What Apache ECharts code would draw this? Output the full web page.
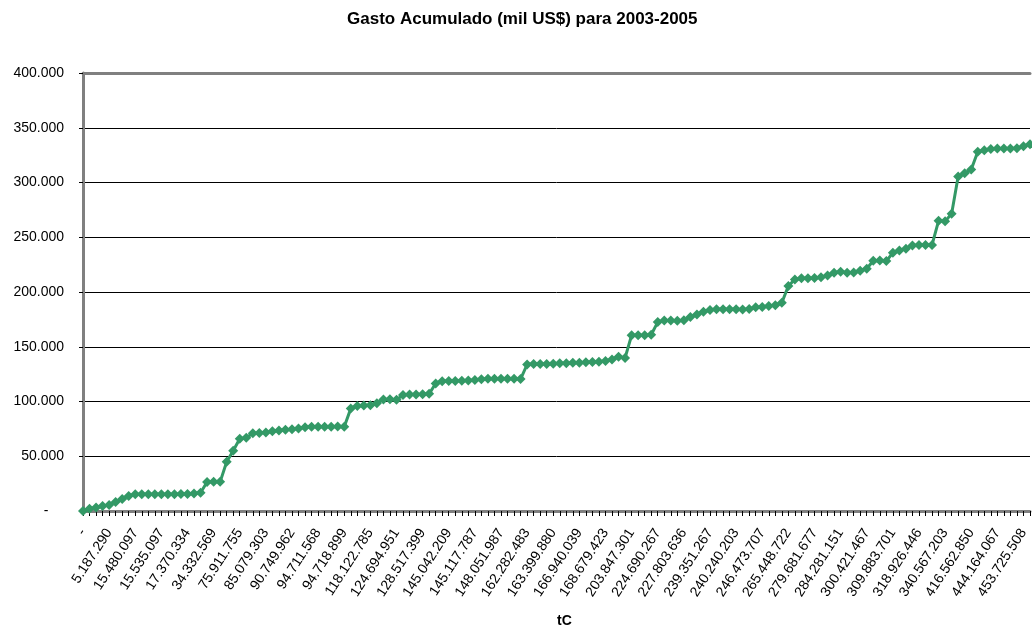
<!DOCTYPE html>
<html>
<head>
<meta charset="utf-8">
<script src="https://cdn.jsdelivr.net/npm/echarts@6/dist/echarts.min.js"></script>
<style>
  html, body { margin: 0; padding: 0; background: #ffffff; }
  #chart { width: 1032px; height: 628px; }
</style>
</head>
<body>
<div id="chart"></div>
<script>
// Accumulated spending (thousand US$) against accumulated tC, 2003-2005
const tickLabels = [
  '-', '5.187.290', '15.480.097', '15.535.097', '17.370.334', '34.332.569',
  '75.911.755', '85.079.303', '90.749.962', '94.711.568', '94.718.899',
  '118.122.785', '124.694.951', '128.517.399', '145.042.209', '145.117.787',
  '148.051.987', '162.282.483', '163.399.880', '166.940.039', '168.679.423',
  '203.847.301', '224.690.267', '227.803.636', '239.351.267', '240.240.203',
  '246.473.707', '265.448.722', '279.681.677', '284.281.151', '300.421.467',
  '309.883.701', '318.926.446', '340.567.203', '416.562.850', '444.164.067',
  '453.725.508'
];

const gastoAcumulado = [
  0, 2000, 3200, 4500, 5500, 8200, 11000, 13800, 15300, 15300,
  15300, 15300, 15300, 15300, 15400, 15500, 15600, 16000, 16700, 26500,
  26600, 26600, 45000, 55000, 66000, 67000, 71000, 71200, 71800, 72800,
  73500, 74200, 74600, 75300, 76500, 77000, 77000, 77000, 77000, 77100,
  77000, 93500, 95800, 96300, 96600, 98500, 101800, 102000, 101500, 106000,
  106500, 106500, 106600, 107000, 116500, 118500, 118800, 118800, 119000, 119200,
  119600, 120300, 120800, 120800, 120800, 120800, 120800, 120500, 133800, 134200,
  134300, 134300, 134500, 134900, 135000, 135400, 135400, 135800, 136000, 136300,
  137000, 138300, 140800, 139800, 160500, 160600, 160600, 161000, 172500, 174000,
  174000, 173800, 174200, 177200, 179500, 182000, 183500, 184300, 184300, 184300,
  184300, 184000, 184500, 186000, 186400, 187300, 187800, 190200, 205500, 211500,
  212500, 212600, 212700, 213500, 215000, 217500, 218500, 217500, 217800, 219500,
  221300, 228500, 228800, 228200, 235800, 238000, 239500, 242500, 243000, 243000,
  243000, 265000, 264500, 271500, 305500, 308500, 311800, 328000, 329500, 330500,
  331000, 331000, 331000, 331200, 333000, 335000
];

const labelStep = 4;
const yTicks = { min: 0, max: 400000, interval: 50000 };

// one category per point; only every fourth one carries a printed tC value
const categories = gastoAcumulado.map((_, i) =>
  i % labelStep === 0 ? (tickLabels[i / labelStep] || '') : ''
);

function fmtThousands(v) {
  if (v === 0) return '-    ';
  return String(v).replace(/\B(?=(\d{3})+(?!\d))/g, '.');
}

const chart = echarts.init(document.getElementById('chart'), null, { renderer: 'canvas' });

chart.setOption({
  animation: false,
  backgroundColor: '#ffffff',
  textStyle: { fontFamily: 'Liberation Sans, Arial, sans-serif' },
  title: {
    text: 'Gasto Acumulado (mil US$) para 2003-2005',
    left: 347,
    top: 11,
    padding: 0,
    textStyle: {
      fontFamily: 'Liberation Sans, Arial, sans-serif',
      fontSize: 17,
      fontWeight: 'bold',
      color: '#000000'
    }
  },
  grid: {
    left: 83, right: 2, top: 73, bottom: 117,
    containLabel: false,
    outerBoundsMode: 'none'
  },
  xAxis: [
    {
      type: 'category',
      data: categories,
      boundaryGap: false,
      name: 'tC',
      nameLocation: 'middle',
      nameGap: 103,
      nameTextStyle: {
        fontFamily: 'Liberation Sans, Arial, sans-serif',
        fontSize: 14,
        fontWeight: 'bold',
        color: '#000000',
        padding: [0, 0, 0, 16]
      },
      axisLine: { show: true, lineStyle: { color: '#808080', width: 3 } },
      axisTick: { show: true, interval: 0, length: 5, inside: false, lineStyle: { color: '#000000', width: 1 } },
      axisLabel: {
        interval: labelStep - 1,
        rotate: 57,
        margin: 19,
        fontSize: 14,
        color: '#000000',
        fontFamily: 'Liberation Sans, Arial, sans-serif'
      },
      splitLine: { show: false }
    },
    {
      type: 'category',
      data: categories,
      boundaryGap: false,
      position: 'top',
      axisLine: { show: true, lineStyle: { color: '#808080', width: 3 } },
      axisTick: { show: false },
      axisLabel: { show: false },
      splitLine: { show: false }
    }
  ],
  yAxis: {
    type: 'value',
    min: yTicks.min,
    max: yTicks.max,
    interval: yTicks.interval,
    axisLine: { show: true, lineStyle: { color: '#808080', width: 3 } },
    axisTick: { show: true, length: 4, lineStyle: { color: '#000000', width: 1 } },
    axisLabel: {
      formatter: fmtThousands,
      fontSize: 14,
      margin: 19,
      color: '#000000',
      fontFamily: 'Liberation Sans, Arial, sans-serif'
    },
    splitLine: { show: true, lineStyle: { color: '#000000', width: 1 } }
  },
  series: [
    {
      name: 'Gasto Acumulado',
      type: 'line',
      data: gastoAcumulado,
      xAxisIndex: 0,
      symbol: 'diamond',
      symbolSize: [10, 10],
      showAllSymbol: true,
      clip: false,
      lineStyle: { color: '#339966', width: 3 },
      itemStyle: { color: '#339966', borderWidth: 0 }
    }
  ]
});
</script>
</body>
</html>
